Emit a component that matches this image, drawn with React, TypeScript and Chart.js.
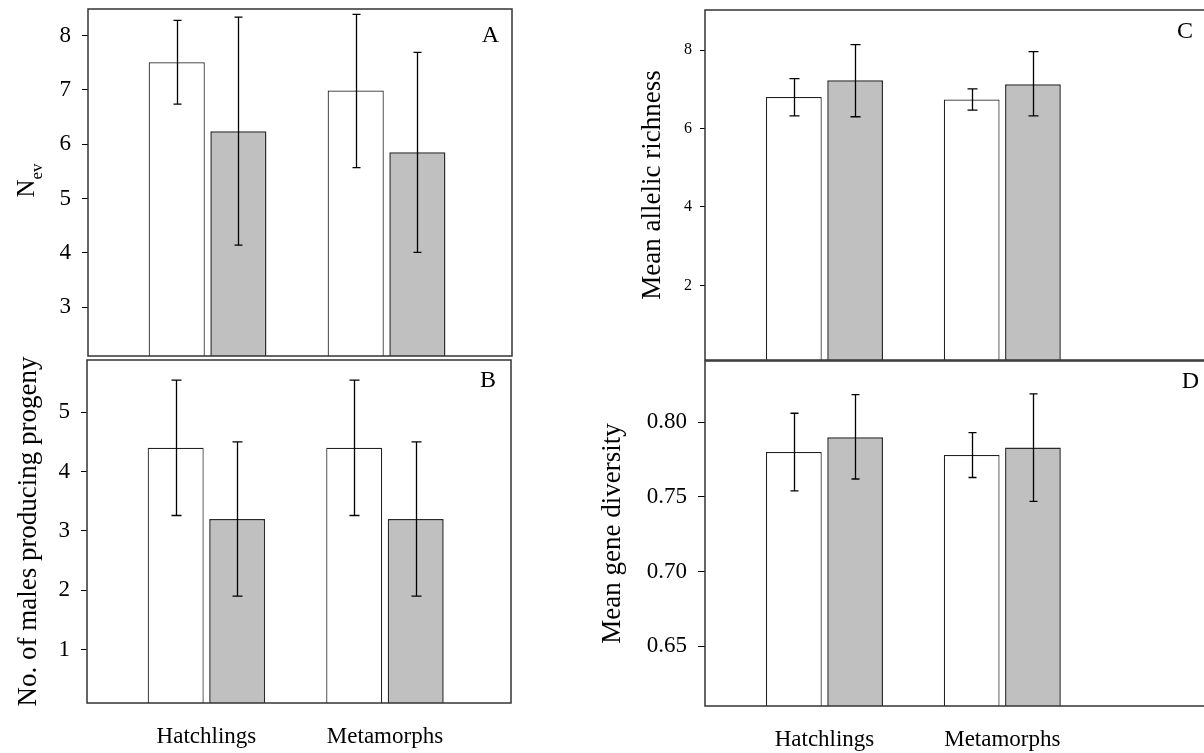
import React, { useEffect, useRef } from "react";
import { Chart, registerables } from "chart.js";

Chart.register(...registerables);

// ---------------- data ----------------
const categories = ["Hatchlings", "Metamorphs"];
const categoryPositions = [1, 2];

// Panel A: N_ev
const nevWhite = [7.51, 6.99];
const nevWhiteLow = [6.74, 5.57];
const nevWhiteHigh = [8.28, 8.39];
const nevGray = [6.24, 5.85];
const nevGrayLow = [4.14, 4.01];
const nevGrayHigh = [8.34, 7.69];
const nevTicks = [3, 4, 5, 6, 7, 8];

// Panel B: No. of males producing progeny
const malesWhite = [4.4, 4.4];
const malesWhiteLow = [3.26, 3.26];
const malesWhiteHigh = [5.54, 5.54];
const malesGray = [3.2, 3.2];
const malesGrayLow = [1.9, 1.9];
const malesGrayHigh = [4.5, 4.5];
const malesTicks = [1, 2, 3, 4, 5];

// Panel C: Mean allelic richness
const richWhite = [6.8, 6.74];
const richWhiteLow = [6.32, 6.47];
const richWhiteHigh = [7.27, 7.01];
const richGray = [7.23, 7.13];
const richGrayLow = [6.3, 6.32];
const richGrayHigh = [8.14, 7.96];
const richTicks = [2, 4, 6, 8];

// Panel D: Mean gene diversity
const divWhite = [0.78, 0.778];
const divWhiteLow = [0.754, 0.763];
const divWhiteHigh = [0.806, 0.793];
const divGray = [0.79, 0.783];
const divGrayLow = [0.762, 0.747];
const divGrayHigh = [0.8185, 0.819];
const divTicks = [0.65, 0.7, 0.75, 0.8];

// ---------------- styling ----------------
const FONT = "'Liberation Serif', 'Times New Roman', Times, serif";
const PAGE_H = 753;

type Panel = {
  letter: string;
  canvasWidth: number;
  padLeft: number;
  area: { left: number; top: number; right: number; bottom: number };
  xMin: number;
  xMax: number;
  yMin: number;
  yMax: number;
  yTicks: number[];
  yDecimals: number;
  tickFont: number;
  tickLength: number;
  tickPad: number;
  yTitle: string | null;
  titleOffset: number;
  showX: boolean;
  white: number[];
  whiteLow: number[];
  whiteHigh: number[];
  gray: number[];
  grayLow: number[];
  grayHigh: number[];
  cap: number;
  letterDx: number;
  letterDy: number;
};

const panels: Panel[] = [
  {
    letter: "A",
    canvasWidth: 1204,
    padLeft: 0,
    area: { left: 88, top: 9, right: 512, bottom: 356 },
    xMin: 0.332,
    xMax: 2.701,
    yMin: 2.1,
    yMax: 8.49,
    yTicks: nevTicks,
    yDecimals: 0,
    tickFont: 23,
    tickLength: 6,
    tickPad: 11,
    yTitle: null,
    titleOffset: 0,
    showX: false,
    white: nevWhite,
    whiteLow: nevWhiteLow,
    whiteHigh: nevWhiteHigh,
    gray: nevGray,
    grayLow: nevGrayLow,
    grayHigh: nevGrayHigh,
    cap: 8,
    letterDx: 13,
    letterDy: 27,
  },
  {
    letter: "B",
    canvasWidth: 1204,
    padLeft: 0,
    area: { left: 87, top: 360, right: 511, bottom: 703 },
    xMin: 0.331,
    xMax: 2.706,
    yMin: 0.1,
    yMax: 5.88,
    yTicks: malesTicks,
    yDecimals: 0,
    tickFont: 23,
    tickLength: 6,
    tickPad: 11,
    yTitle: "No. of males producing progeny",
    titleOffset: 22,
    showX: true,
    white: malesWhite,
    whiteLow: malesWhiteLow,
    whiteHigh: malesWhiteHigh,
    gray: malesGray,
    grayLow: malesGrayLow,
    grayHigh: malesGrayHigh,
    cap: 10,
    letterDx: 15,
    letterDy: 21,
  },
  {
    letter: "C",
    canvasWidth: 1230,
    padLeft: 600,
    area: { left: 705, top: 10, right: 1210, bottom: 360 },
    xMin: 0.328,
    xMax: 3.168,
    yMin: 0.1,
    yMax: 9.02,
    yTicks: richTicks,
    yDecimals: 0,
    tickFont: 16,
    tickLength: 5,
    tickPad: 8,
    yTitle: "Mean allelic richness",
    titleOffset: 46,
    showX: false,
    white: richWhite,
    whiteLow: richWhiteLow,
    whiteHigh: richWhiteHigh,
    gray: richGray,
    grayLow: richGrayLow,
    grayHigh: richGrayHigh,
    cap: 10,
    letterDx: 17,
    letterDy: 22,
  },
  {
    letter: "D",
    canvasWidth: 1230,
    padLeft: 600,
    area: { left: 705, top: 361, right: 1210, bottom: 706 },
    xMin: 0.328,
    xMax: 3.168,
    yMin: 0.61,
    yMax: 0.841,
    yTicks: divTicks,
    yDecimals: 2,
    tickFont: 23,
    tickLength: 7,
    tickPad: 11,
    yTitle: "Mean gene diversity",
    titleOffset: 6,
    showX: true,
    white: divWhite,
    whiteLow: divWhiteLow,
    whiteHigh: divWhiteHigh,
    gray: divGray,
    grayLow: divGrayLow,
    grayHigh: divGrayHigh,
    cap: 8,
    letterDx: 11,
    letterDy: 21,
  },
];

function makePlugins(p: Panel) {
  const errorBars = {
    id: "errorBars" + p.letter,
    afterDatasetsDraw(chart: any) {
      const { ctx } = chart;
      const yScale = chart.scales.y;
      const sets = [
        { low: p.whiteLow, high: p.whiteHigh },
        { low: p.grayLow, high: p.grayHigh },
      ];
      ctx.save();
      ctx.strokeStyle = "#000";
      ctx.lineWidth = 1.3;
      sets.forEach((e, di) => {
        const meta = chart.getDatasetMeta(di);
        meta.data.forEach((el: any, j: number) => {
          const x = Math.round(el.x) + 0.5;
          const yl = yScale.getPixelForValue(e.low[j]);
          const yh = yScale.getPixelForValue(e.high[j]);
          ctx.beginPath();
          ctx.moveTo(x, yl);
          ctx.lineTo(x, yh);
          ctx.moveTo(x - p.cap / 2, yl);
          ctx.lineTo(x + p.cap / 2, yl);
          ctx.moveTo(x - p.cap / 2, yh);
          ctx.lineTo(x + p.cap / 2, yh);
          ctx.stroke();
        });
      });
      ctx.restore();
    },
  };
  const frame = {
    id: "frame" + p.letter,
    afterDraw(chart: any) {
      const { ctx, chartArea: a } = chart;
      ctx.save();
      ctx.strokeStyle = "#333";
      ctx.lineWidth = 1.5;
      ctx.strokeRect(a.left, a.top, a.right - a.left, a.bottom - a.top);
      ctx.fillStyle = "#000";
      ctx.font = `24px ${FONT}`;
      ctx.textAlign = "right";
      ctx.textBaseline = "middle";
      ctx.fillText(p.letter, a.right - p.letterDx, a.top + p.letterDy);
      ctx.restore();
    },
  };
  const list: any[] = [errorBars, frame];
  if (p.yTitle === null) {
    // N with subscript "ev"
    list.push({
      id: "nevTitle",
      afterDraw(chart: any) {
        const { ctx, chartArea: a } = chart;
        ctx.save();
        ctx.fillStyle = "#000";
        const bigFont = `25px ${FONT}`;
        const smallFont = `17px ${FONT}`;
        ctx.font = bigFont;
        const wN = ctx.measureText("N").width;
        ctx.font = smallFont;
        const wEv = ctx.measureText("ev").width;
        ctx.translate(34, (a.top + a.bottom) / 2 - 2);
        ctx.rotate(-Math.PI / 2);
        ctx.textBaseline = "alphabetic";
        ctx.textAlign = "left";
        const start = -(wN + wEv) / 2;
        ctx.font = bigFont;
        ctx.fillText("N", start, 0);
        ctx.font = smallFont;
        ctx.fillText("ev", start + wN, 8);
        ctx.restore();
      },
    });
  }
  return list;
}

function PanelChart({ p }: { p: Panel }) {
  const ref = useRef<HTMLCanvasElement | null>(null);
  useEffect(() => {
    if (!ref.current) return;
    const xAxisHeight = p.showX ? 45 : 0;
    const yAxisWidth = p.area.left - p.padLeft;
    const toPoints = (vals: number[]) =>
      categoryPositions.map((x, i) => ({ x, y: vals[i] }));
    const chart = new Chart(ref.current, {
      type: "bar",
      data: {
        datasets: [
          {
            label: "Group 1",
            data: toPoints(p.white),
            backgroundColor: "#ffffff",
            borderColor: "#222222",
            borderWidth: 1.2,
          },
          {
            label: "Group 2",
            data: toPoints(p.gray),
            backgroundColor: "#c0c0c0",
            borderColor: "#2a2a2a",
            borderWidth: 1.5,
          },
        ],
      } as any,
      options: {
        responsive: false,
        animation: false,
        layout: {
          padding: {
            left: p.padLeft,
            top: p.area.top,
            right: p.canvasWidth - p.area.right,
            bottom: PAGE_H - p.area.bottom - xAxisHeight,
          },
        },
        datasets: {
          bar: { categoryPercentage: 0.689, barPercentage: 0.91 },
        },
        plugins: {
          legend: { display: false },
          tooltip: { enabled: false },
          title: { display: false },
        },
        scales: {
          x: {
            type: "linear",
            min: p.xMin,
            max: p.xMax,
            offset: false,
            grid: { display: false, drawTicks: false },
            border: { display: false },
            afterBuildTicks: (s: any) => {
              s.ticks = categoryPositions.map((v) => ({ value: v }));
            },
            afterFit: (s: any) => {
              s.height = xAxisHeight;
              s.paddingLeft = 0;
              s.paddingRight = 0;
              s.paddingTop = 0;
              s.paddingBottom = 0;
            },
            ticks: {
              display: p.showX,
              autoSkip: false,
              maxRotation: 0,
              minRotation: 0,
              padding: 20,
              color: "#000",
              font: { family: FONT, size: 23 },
              callback: (v: any) => {
                const i = categoryPositions.indexOf(Number(v));
                return i >= 0 ? categories[i] : "";
              },
            },
          },
          y: {
            type: "linear",
            min: p.yMin,
            max: p.yMax,
            afterBuildTicks: (s: any) => {
              s.ticks = p.yTicks.map((v) => ({ value: v }));
            },
            afterFit: (s: any) => {
              s.width = yAxisWidth;
              s.paddingLeft = 0;
              s.paddingRight = 0;
              s.paddingTop = 0;
              s.paddingBottom = 0;
            },
            grid: {
              drawOnChartArea: false,
              drawTicks: true,
              tickLength: p.tickLength,
              color: "#000",
              lineWidth: 1,
            },
            border: { display: false },
            ticks: {
              padding: p.tickPad,
              color: "#000",
              font: { family: FONT, size: p.tickFont },
              callback: (v: any) => Number(v).toFixed(p.yDecimals),
            },
            title: {
              display: p.yTitle !== null,
              text: p.yTitle || "",
              color: "#000",
              font: { family: FONT, size: 27, lineHeight: 0.5 },
              padding: { top: p.titleOffset, bottom: 0 },
            },
          },
        },
      } as any,
      plugins: makePlugins(p),
    });
    return () => chart.destroy();
  }, [p]);
  return (
    <canvas
      ref={ref}
      width={p.canvasWidth}
      height={PAGE_H}
      style={{
        position: "absolute",
        left: 0,
        top: 0,
        width: p.canvasWidth,
        height: PAGE_H,
      }}
    />
  );
}

export default function App() {
  return (
    <div
      style={{
        position: "fixed",
        left: 0,
        top: 0,
        width: 1204,
        height: PAGE_H,
        overflow: "hidden",
        background: "#ffffff",
      }}
    >
      {panels.map((p) => (
        <PanelChart key={p.letter} p={p} />
      ))}
    </div>
  );
}
